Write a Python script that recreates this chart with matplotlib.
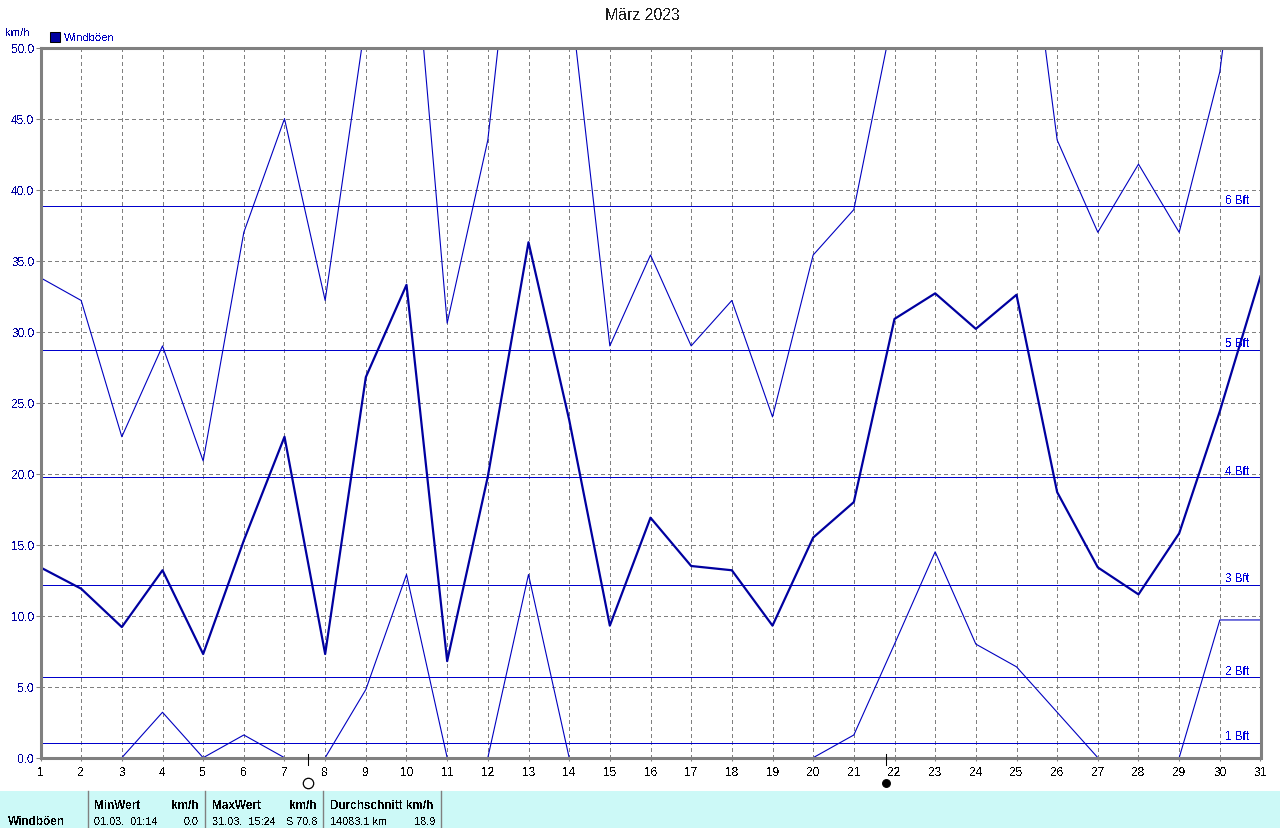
import numpy as np
import matplotlib
matplotlib.use("Agg")
import matplotlib.pyplot as plt
from matplotlib.patches import Rectangle

#%%
days = np.arange(1, 32)
gust_max = [33.8, 32.2, 22.6, 29.0, 20.9, 37.0, 45.0, 32.2, 52.0, 64.0,
            30.6, 43.5, 69.5, 54.3, 29.0, 35.4, 29.0, 32.2, 24.0, 35.4,
            38.6, 52.8, 60.0, 58.0, 65.7, 43.5, 37.0, 41.8, 37.0, 48.3, 70.8]
gust_mean = [13.4, 11.9, 9.2, 13.2, 7.3, 15.3, 22.6, 7.3, 26.8, 33.3,
             6.8, 19.8, 36.3, 23.8, 9.3, 16.9, 13.5, 13.2, 9.3, 15.5,
             18.0, 30.9, 32.7, 30.2, 32.6, 18.7, 13.4, 11.5, 15.8, 24.4, 33.9]
gust_min = [0.0, 0.0, 0.0, 3.2, 0.0, 1.6, 0.0, 0.0, 4.8, 12.9,
            0.0, 0.0, 12.9, 0.0, 0.0, 0.0, 0.0, 0.0, 0.0, 0.0,
            1.6, 8.0, 14.5, 8.0, 6.4, 3.2, 0.0, 0.0, 0.0, 9.7, 9.7]
bft_values = [1.06, 5.65, 12.15, 19.75, 28.7, 38.83]
bft_labels = ["1 Bft", "2 Bft", "3 Bft", "4 Bft", "5 Bft", "6 Bft"]
y_ticks = np.arange(0, 50.1, 5)
full_moon_day = 7.57
new_moon_day = 21.78

plt.rcParams['font.family'] = ['Liberation Sans', 'DejaVu Sans']
plt.rcParams['text.antialiased'] = False

#%%
fig = plt.figure(figsize=(12.8, 8.29), dpi=100, facecolor="white")
ax = fig.add_axes([40.5/1280, 1-758.7/829, 1220/1280, 710/829])

ax.set_xlim(1, 31)
ax.set_ylim(0, 50)
ax.set_xticks(days)
ax.set_yticks(y_ticks)
ax.set_yticklabels([f"{v:.1f}" for v in y_ticks], color="#0000A0", fontsize=8.6)
ax.tick_params(axis="x", labelsize=8.6, length=2, width=0.75, color="#808080", pad=4)
ax.tick_params(axis="y", length=3.5, width=0.75, color="#808080", pad=1)
ax.grid(True, color="#808080", linestyle=(0, (4, 4)), linewidth=0.72, antialiased=False)
ax.set_axisbelow(True)
for s in ax.spines.values():
    s.set_color("#808080")
    s.set_linewidth(2.2)
    s.set_zorder(5)

for v, lab in zip(bft_values, bft_labels):
    ax.axhline(v, color="#0000CC", linewidth=0.72, zorder=2, antialiased=False)
    ax.text(30.12, v + 0.05, lab, color="#0000E0", fontsize=8.4, ha="left", va="bottom", zorder=4)

ax.plot(days, gust_max, color="#0000C0", linewidth=0.8, zorder=3)
ax.plot(days, gust_min, color="#0000C0", linewidth=0.8, zorder=3)
ax.plot(days, gust_mean, color="#0000A0", linewidth=1.6, zorder=3)

# moon phases under the axis
ax.plot([full_moon_day, full_moon_day], [0.25, -0.5], color="black", linewidth=0.75, clip_on=False, zorder=6)
ax.plot([new_moon_day, new_moon_day], [0.25, -0.5], color="black", linewidth=0.75, clip_on=False, zorder=6)
ax.plot([full_moon_day], [-1.75], "o", mfc="white", mec="black", ms=7.5, mew=0.9, clip_on=False)
ax.plot([new_moon_day], [-1.75], "o", mfc="black", mec="black", ms=5.6, mew=0.8, clip_on=False)

#%%
# header texts
fig.text(642/1280, 1-15/829, "März 2023", ha="center", va="center", fontsize=11.4, color="#202020")
fig.text(5/1280, 1-33/829, "km/h", ha="left", va="center", fontsize=8.2, color="#0000A0")
fig.text(64/1280, 1-38/829, "Windböen", ha="left", va="center", fontsize=8.1, color="#0000C0")
fig.add_artist(Rectangle((50/1280, 1-43/829), 10/1280, 10/829, transform=fig.transFigure,
                         facecolor="#0000A0", edgecolor="black", linewidth=0.75))

# statistics panel
fig.add_artist(Rectangle((0, 0), 1, 37/829, transform=fig.transFigure, facecolor="#CCF9F7", edgecolor="none"))
for px in [88, 205, 323, 441]:
    fig.add_artist(plt.Line2D([px/1280, px/1280], [0, 37/829], transform=fig.transFigure, color="#808080", linewidth=1))

head_y = 1-806/829
row_y = 1-822/829
panel_texts = [
    (8, row_y, "Windböen", "left", True),
    (94, head_y, "MinWert", "left", True),
    (199, head_y, "km/h", "right", True),
    (94, row_y, "01.03.  01:14", "left", False),
    (199, row_y, "0.0", "right", False),
    (212, head_y, "MaxWert", "left", True),
    (317, head_y, "km/h", "right", True),
    (212, row_y, "31.03.  15:24", "left", False),
    (317, row_y, "S 70.8", "right", False),
    (330, head_y, "Durchschnitt km/h", "left", True),
    (330, row_y, "14083.1 km", "left", False),
    (435, row_y, "18.9", "right", False),
]
for px, y, txt, ha, bold in panel_texts:
    fig.text(px/1280, y, txt, ha=ha, va="center", fontsize=8.5 if bold else 7.8, color="black",
             fontweight="bold" if bold else "normal")

plt.savefig("out.png", dpi=100)
